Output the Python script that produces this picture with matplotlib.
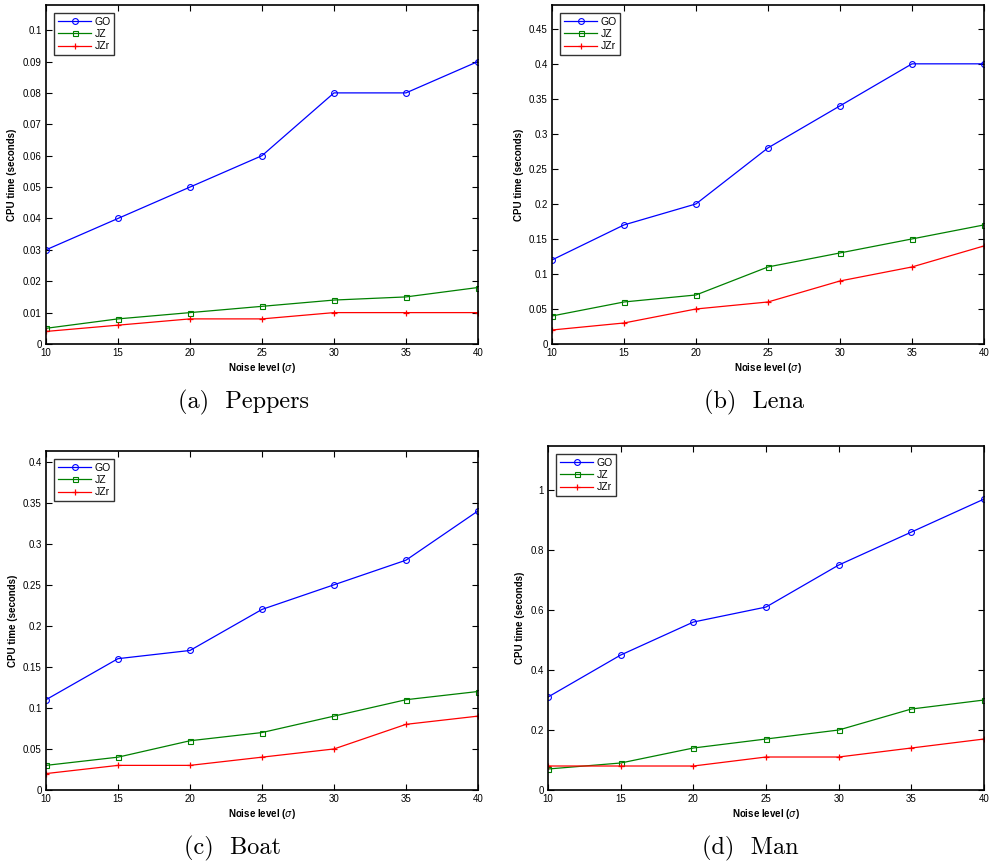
import matplotlib
matplotlib.use("Agg")
import matplotlib.pyplot as plt
from matplotlib.ticker import FuncFormatter
import numpy as np

noise = [10, 15, 20, 25, 30, 35, 40]

peppers_go = [0.03, 0.04, 0.05, 0.06, 0.08, 0.08, 0.09]
peppers_jz = [0.005, 0.008, 0.010, 0.012, 0.014, 0.015, 0.018]
peppers_jzr = [0.004, 0.006, 0.008, 0.008, 0.010, 0.010, 0.010]

lena_go = [0.12, 0.17, 0.20, 0.28, 0.34, 0.40, 0.40]
lena_jz = [0.04, 0.06, 0.07, 0.11, 0.13, 0.15, 0.17]
lena_jzr = [0.02, 0.03, 0.05, 0.06, 0.09, 0.11, 0.14]

boat_go = [0.11, 0.16, 0.17, 0.22, 0.25, 0.28, 0.34]
boat_jz = [0.03, 0.04, 0.06, 0.07, 0.09, 0.11, 0.12]
boat_jzr = [0.02, 0.03, 0.03, 0.04, 0.05, 0.08, 0.09]

man_go = [0.31, 0.45, 0.56, 0.61, 0.75, 0.86, 0.97]
man_jz = [0.07, 0.09, 0.14, 0.17, 0.20, 0.27, 0.30]
man_jzr = [0.08, 0.08, 0.08, 0.11, 0.11, 0.14, 0.17]

captions = ["(a)  Peppers", "(b)  Lena", "(c)  Boat", "(d)  Man"]
series_names = ["GO", "JZ", "JZr"]

plt.rcParams['font.family'] = ['Liberation Sans', 'DejaVu Sans']

fig = plt.figure(figsize=(9.89, 8.67), dpi=100)
W, H = 989, 867

panels = [
    dict(box=(46, 5, 478, 344), data=(peppers_go, peppers_jz, peppers_jzr),
         ylim=0.108, yt=np.arange(0, 0.1001, 0.01), cap=captions[0], capx=244, capy=402),
    dict(box=(552, 5, 984, 344), data=(lena_go, lena_jz, lena_jzr),
         ylim=0.484, yt=np.arange(0, 0.4501, 0.05), cap=captions[1], capx=754, capy=402),
    dict(box=(46, 451, 478, 790), data=(boat_go, boat_jz, boat_jzr),
         ylim=0.413, yt=np.arange(0, 0.4001, 0.05), cap=captions[2], capx=232, capy=848),
    dict(box=(548, 446, 984, 790), data=(man_go, man_jz, man_jzr),
         ylim=1.147, yt=np.arange(0, 1.001, 0.2), cap=captions[3], capx=750, capy=848),
]

styles = [
    dict(color='#0000ff', marker='o', ms=4.2, mfc='none', mew=0.8),
    dict(color='#008000', marker='s', ms=3.6, mfc='none', mew=0.8),
    dict(color='#ff0000', marker='+', ms=5, mew=0.9),
]

fmt = FuncFormatter(lambda v, p: ('%g' % round(v, 4)))

for pn in panels:
    l, t, r, b = pn['box']
    ax = fig.add_axes([l / W, 1 - b / H, (r - l) / W, (b - t) / H])
    for name, ys, st in zip(series_names, pn['data'], styles):
        ax.plot(noise, ys, lw=0.9, label=name, **st)
    ax.set_xlim(10, 40)
    ax.set_ylim(0, pn['ylim'])
    ax.set_xticks(noise)
    ax.set_yticks(pn['yt'])
    ax.yaxis.set_major_formatter(fmt)
    ax.tick_params(direction='in', top=True, right=True, labelsize=7, length=4, width=0.8, pad=3)
    for s in ax.spines.values():
        s.set_linewidth(1.2)
    ax.set_xlabel('Noise level ($\\sigma$)', fontsize=7, fontweight='bold', labelpad=2)
    ax.set_ylabel('CPU time (seconds)', fontsize=7, fontweight='bold', labelpad=4)
    leg = ax.legend(loc='upper left', fontsize=7.5, frameon=True, fancybox=False,
                    edgecolor='black', borderpad=0.35, labelspacing=0.2,
                    handlelength=3.2, handletextpad=0.3, borderaxespad=0.8)
    leg.get_frame().set_linewidth(1.0)
    fig.text(pn['capx'] / W, 1 - pn['capy'] / H, pn['cap'], ha='center', va='center',
             fontsize=17.5, family='cmr10')

fig.savefig('out.png', dpi=100)
